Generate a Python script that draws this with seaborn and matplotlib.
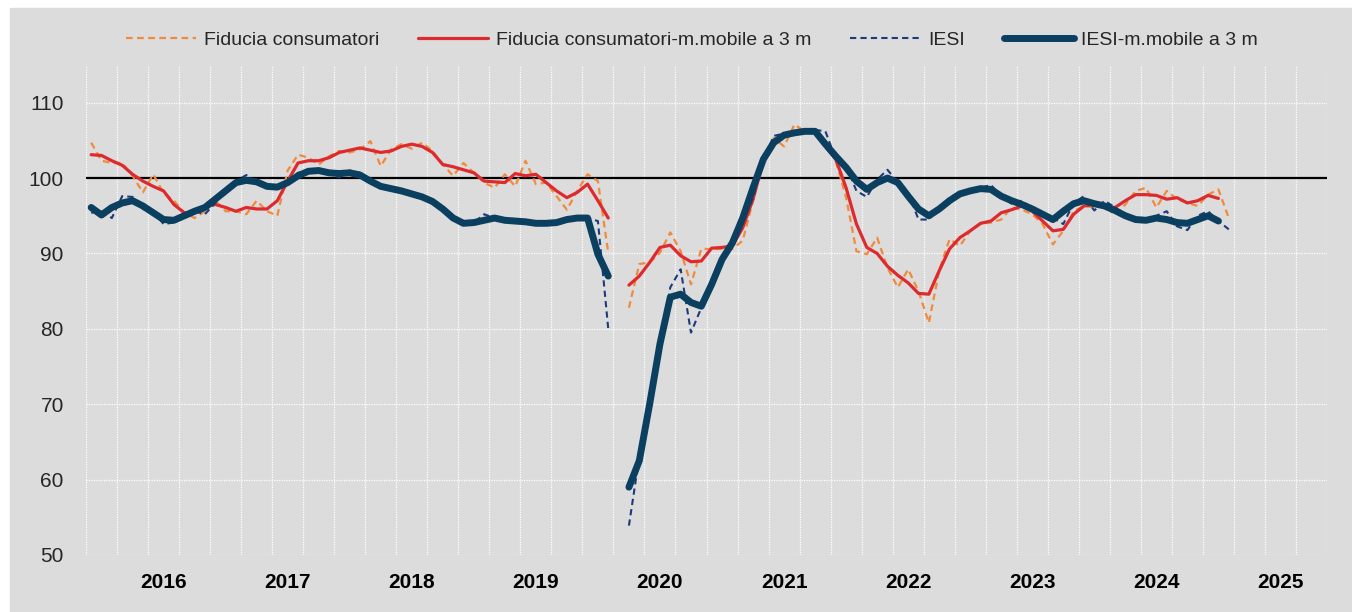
import numpy as np
import pandas as pd
import matplotlib
matplotlib.use("Agg")
import matplotlib.pyplot as plt
from matplotlib.lines import Line2D
from matplotlib.patches import Rectangle
import seaborn as sns

nan = np.nan

# dati mensili da gen 2016 (indice 0) a mar 2025 (indice 110), apr 2020 mancante
fiducia = [104.7, 102.3, 102.0, 102.0, 100.3, 98.1, 100.5, 98.0, 97.0, 95.4, 94.7, 95.6,
           97.0, 95.6, 95.6, 95.2, 97.0, 95.6, 95.0, 101.0, 103.1, 102.7, 101.8, 102.9,
           103.6, 103.4, 103.8, 104.9, 101.6, 103.8, 104.5, 103.9, 104.7, 103.6, 101.8, 100.3,
           102.0, 100.7, 99.4, 98.7, 100.5, 98.9, 102.3, 99.2, 99.4, 97.6, 95.8, 98.3,
           100.5, 99.6, 90.1, nan, 82.8, 88.6, 88.8, 90.1, 92.8, 90.3, 85.9, 90.6,
           90.6, 90.6, 90.6, 91.7, 97.0, 102.3, 105.3, 104.2, 107.1, 106.2, 105.8, 104.9,
           102.3, 97.4, 90.3, 89.9, 92.1, 88.1, 85.5, 87.9, 85.0, 80.8, 87.7, 91.9,
           91.0, 93.0, 93.9, 94.1, 94.5, 96.1, 95.8, 95.2, 93.9, 91.2, 93.0, 95.6,
           96.3, 96.1, 96.3, 95.1, 96.5, 98.3, 98.7, 96.1, 98.3, 97.2, 96.7, 96.3,
           97.8, 98.5, 94.7]
fiducia_mm3 = [103.1, 103.0, 102.3, 101.7, 100.5, 99.6, 98.9, 98.3, 96.5, 95.4, 95.4, 96.3,
               96.5, 96.1, 95.6, 96.1, 95.9, 95.9, 97.0, 99.6, 102.0, 102.3, 102.3, 102.7,
               103.4, 103.7, 104.0, 103.7, 103.4, 103.6, 104.2, 104.5, 104.2, 103.4, 101.8, 101.5,
               101.1, 100.7, 99.6, 99.5, 99.4, 100.6, 100.3, 100.5, 99.4, 98.3, 97.4, 98.1,
               99.2, 97.0, 94.7, nan, 85.8, 87.0, 88.8, 90.8, 91.1, 89.7, 88.9, 89.0,
               90.7, 90.8, 91.0, 93.4, 97.2, 102.3, 104.5, 105.6, 106.1, 106.3, 106.3, 104.2,
               102.5, 98.7, 93.9, 90.8, 90.0, 88.3, 87.1, 86.1, 84.7, 84.6, 87.7, 90.6,
               92.1, 93.0, 94.0, 94.3, 95.4, 95.8, 96.3, 95.6, 94.3, 93.0, 93.2, 95.2,
               96.3, 96.5, 96.1, 96.1, 97.0, 97.8, 97.8, 97.7, 97.2, 97.4, 96.7, 97.0,
               97.7, 97.3, nan]
iesi = [95.4, 95.6, 94.7, 97.6, 97.5, 95.9, 95.6, 93.9, 94.1, 95.2, 95.6, 95.2,
        96.7, 98.3, 99.6, 100.4, 99.4, 98.9, 98.7, 99.6, 100.7, 100.9, 100.9, 100.5,
        100.1, 101.0, 100.7, 99.6, 98.9, 98.8, 98.3, 97.9, 97.6, 97.2, 95.9, 94.7,
        94.0, 94.1, 95.2, 94.7, 94.3, 94.5, 94.3, 94.1, 93.9, 94.1, 94.5, 94.8,
        94.7, 94.3, 80.0, nan, 53.9, 63.0, 70.5, 78.0, 85.5, 87.9, 79.5, 82.8,
        86.4, 89.4, 91.2, 94.1, 97.4, 102.3, 105.6, 105.9, 105.9, 106.3, 106.4, 106.2,
        102.5, 101.6, 98.3, 97.5, 99.8, 101.1, 99.4, 98.1, 94.5, 94.5, 96.1, 97.4,
        98.1, 98.5, 98.7, 99.1, 97.6, 96.6, 97.0, 95.9, 95.2, 94.7, 93.9, 96.7,
        97.6, 95.7, 97.0, 96.1, 95.2, 94.5, 94.5, 95.0, 95.6, 93.6, 93.1, 95.0,
        95.6, 94.3, 93.2]
iesi_mm3 = [96.1, 95.1, 96.1, 96.7, 97.0, 96.3, 95.4, 94.5, 94.4, 95.0, 95.6, 96.1,
            97.2, 98.3, 99.4, 99.7, 99.5, 98.9, 98.8, 99.4, 100.3, 100.9, 101.0, 100.7,
            100.6, 100.7, 100.4, 99.6, 98.9, 98.6, 98.3, 97.9, 97.5, 96.9, 95.9, 94.7,
            94.0, 94.1, 94.4, 94.7, 94.4, 94.3, 94.2, 94.0, 94.0, 94.1, 94.5, 94.7,
            94.7, 89.9, 87.0, nan, 59.0, 62.5, 70.0, 78.0, 84.2, 84.6, 83.5, 83.0,
            85.9, 89.2, 91.4, 94.7, 98.7, 102.5, 104.7, 105.7, 106.0, 106.2, 106.2, 104.5,
            102.9, 101.4, 99.6, 98.5, 99.4, 100.0, 99.4, 97.6, 95.9, 95.0, 95.9, 97.0,
            97.9, 98.3, 98.6, 98.5, 97.6, 97.0, 96.5, 95.9, 95.2, 94.5, 95.6, 96.6,
            97.0, 96.6, 96.3, 95.7, 95.0, 94.5, 94.4, 94.7, 94.5, 94.1, 94.0, 94.5,
            95.0, 94.3, nan]

anni = list(range(2016, 2026))
nomi = ["Fiducia consumatori", "Fiducia consumatori-m.mobile a 3 m",
        "IESI", "IESI-m.mobile a 3 m"]

stili = {
    "Fiducia consumatori": dict(color="#F08A3C", lw=1.6, ls=(0, (3, 2)), zorder=3),
    "Fiducia consumatori-m.mobile a 3 m": dict(color="#DC2A2E", lw=2.3, ls="-", zorder=4),
    "IESI": dict(color="#1C3A7C", lw=1.5, ls=(0, (3, 2)), zorder=5),
    "IESI-m.mobile a 3 m": dict(color="#0B3F60", lw=5.0, ls="-", zorder=6),
}

mese = np.arange(len(fiducia))
serie = {nomi[0]: fiducia, nomi[1]: fiducia_mm3, nomi[2]: iesi, nomi[3]: iesi_mm3}
df = pd.concat([
    pd.DataFrame({"mese": mese, "valore": v, "serie": k, "tratto": (mese > 51).astype(int)})
    for k, v in serie.items()
]).dropna()

sns.set_style("whitegrid", {"axes.facecolor": "#DCDCDC", "grid.color": "white"})
plt.rcParams["font.family"] = ["Liberation Sans", "DejaVu Sans"]

fig = plt.figure(figsize=(13.52, 6.12), dpi=100, facecolor="white")
fig.patches.append(Rectangle((10 / 1352, 0), 1 - 10 / 1352, 1 - 8 / 612,
                             transform=fig.transFigure, color="#DCDCDC", zorder=-10))
ax = fig.add_axes([86 / 1352, 1 - 555 / 612, (1327 - 86) / 1352, 490 / 612])
ax.set_zorder(1)
ax.set_facecolor("#DCDCDC")

for nome in nomi:
    st = stili[nome]
    sns.lineplot(data=df[df["serie"] == nome], x="mese", y="valore", units="tratto",
                 estimator=None, ax=ax, color=st["color"], lw=st["lw"],
                 linestyle=st["ls"], zorder=st["zorder"], solid_capstyle="round")

ax.axhline(100, color="black", lw=1.6, zorder=2)

# griglia: verticali ogni trimestre, orizzontali ogni 10
ax.set_xlim(-0.5, 119.5)
ax.set_ylim(50, 115)
ax.set_xticks(np.arange(-0.5, 120, 3), minor=True)
ax.set_xticks([12 * (a - 2016) + 7 for a in anni])
ax.set_xticklabels([str(a) for a in anni], fontweight="bold")
ax.set_yticks(range(50, 111, 10))
ax.grid(False)
ax.grid(which="minor", axis="x", color="white", lw=0.9, ls=(0, (1, 1)))
ax.grid(which="major", axis="y", color="white", lw=0.9, ls=(0, (1, 1)))
ax.tick_params(axis="x", which="both", length=0, pad=13, labelsize=15, labelcolor="black")
ax.tick_params(axis="y", length=0, pad=16, labelsize=15, labelcolor="#262626")
ax.set_xlabel("")
ax.set_ylabel("")
for sp in ax.spines.values():
    sp.set_visible(False)

handles = [Line2D([], [], color=stili[n]["color"], lw=stili[n]["lw"], ls=stili[n]["ls"])
           for n in nomi]
fig.legend(handles, nomi, loc="center", bbox_to_anchor=(0.512, 1 - 40 / 612), ncol=4,
           frameon=False, fontsize=14, handlelength=3.6, handletextpad=0.4,
           columnspacing=2.0, labelcolor="#262626")

fig.savefig("out.png", dpi=100, facecolor=fig.get_facecolor())
